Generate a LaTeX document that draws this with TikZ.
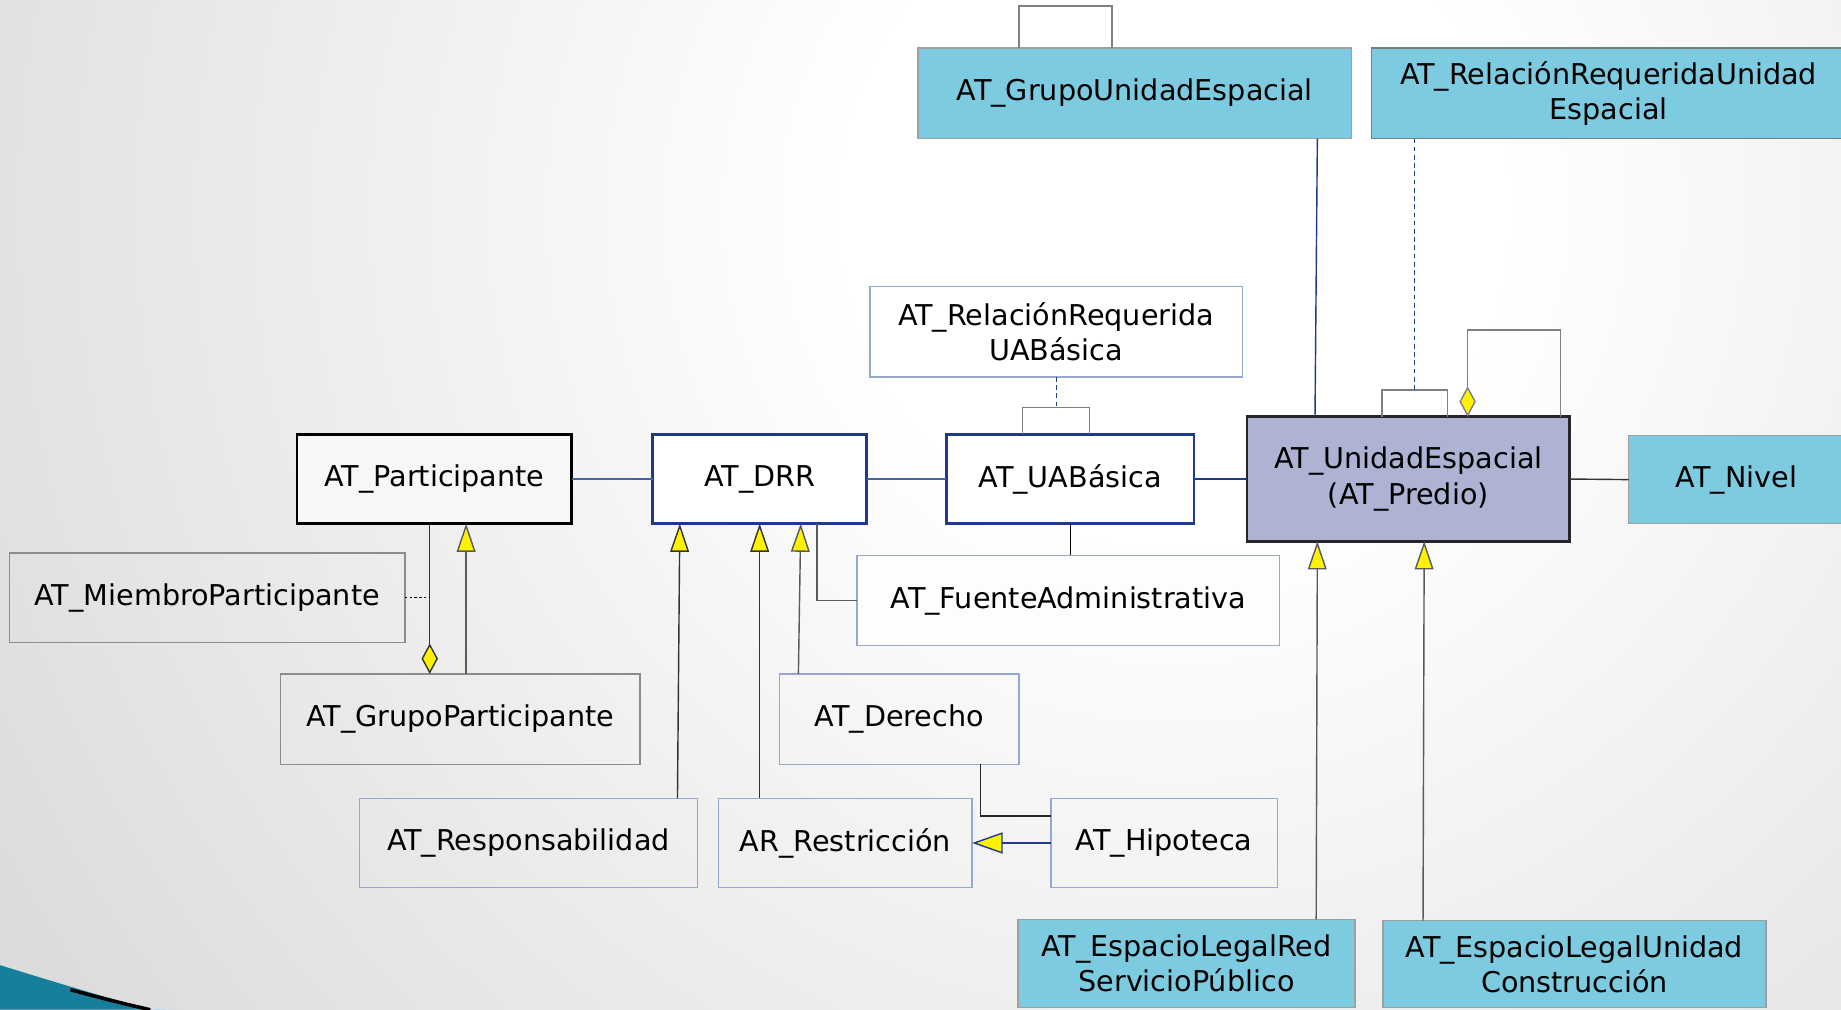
\documentclass[tikz,border=0pt]{standalone}
\usepackage{fontspec}
\setmainfont{DejaVu Sans}
\usetikzlibrary{arrows.meta}
\definecolor{cyanc}{RGB}{124,203,224}
\definecolor{lav}{RGB}{174,178,211}
\definecolor{dblue}{RGB}{31,58,138}
\definecolor{lblue}{RGB}{150,168,210}
\definecolor{bggray}{RGB}{220,220,220}
\definecolor{tealc}{RGB}{22,128,156}
\definecolor{lineblue}{RGB}{70,100,165}
\definecolor{linegray}{RGB}{90,90,90}
\definecolor{boxgray}{RGB}{140,140,140}
\pgfdeclareradialshading{bgshade}{\pgfpoint{0bp}{0bp}}{color(0bp)=(white); color(6bp)=(white); color(25bp)=(bggray); color(50bp)=(bggray)}
\begin{document}
\begin{tikzpicture}[x=0.5pt,y=-0.5pt,
  base/.style={draw, rectangle, inner sep=0pt, outer sep=0pt, align=center, text=black, font=\fontsize{12.2}{15}\selectfont},
  sz/.style 2 args={minimum width=#1, minimum height=#2},
  cyanbox/.style={base, fill=cyanc, draw=gray!75, line width=0.7pt},
  thickbox/.style={base, fill=white, draw=dblue, line width=1.2pt},
  lbox/.style={base, draw=lblue, line width=0.6pt},
  gbox/.style={base, draw=boxgray, line width=0.6pt},
  conn/.style={draw=linegray, line width=0.6pt},
  bconn/.style={draw=lineblue, line width=0.6pt},
  gen/.style={conn, -{Triangle[width=8pt,length=12pt,fill=yellow]}},
  agg/.style={conn, -{Diamond[width=7pt,length=13pt,fill=yellow]}},
]
\useasboundingbox (0,0) rectangle (1568,860);
% background
\begin{scope}
  \clip (0,0) rectangle (1568,860);
  \fill[bggray] (0,0) rectangle (1568,860);
  \shade[shading=bgshade] (1000,180) circle (1150);
  \fill[tealc] (0,822) .. controls (45,836) and (85,848) .. (128,860) -- (0,860) -- cycle;
  \draw[black, line width=1.5pt] (60,843) .. controls (90,851) and (110,856) .. (128,860);
  \fill[cyanc!70] (128,860) .. controls (134,859) and (140,860) .. (150,860) -- cycle;
\end{scope}

% nodes
\node[cyanbox, sz={184.5pt}{38.5pt}] (gue) at (966.5,79.5) {AT\_GrupoUnidadEspacial};
\node[cyanbox, draw=gray!90!teal, sz={202pt}{38.5pt}] (rrue) at (1370,79.5) {AT\_RelaciónRequeridaUnidad\\Espacial};
\node[lbox, fill=white, sz={158.5pt}{38.5pt}] (rrua) at (899.5,282.5) {AT\_RelaciónRequerida\\UABásica};
\node[base, fill=black!3, draw=black, line width=1.2pt, sz={117pt}{38pt}] (part) at (370,408) {AT\_Participante};
\node[thickbox, sz={91pt}{38pt}] (drr) at (647,408) {AT\_DRR};
\node[thickbox, sz={105.5pt}{38pt}] (uab) at (911.5,408) {AT\_UABásica};
\node[base, fill=lav, draw=black!85, line width=1.2pt, sz={137.5pt}{53pt}] (ue) at (1199.5,408) {AT\_UnidadEspacial\\(AT\_Predio)};
\node[cyanbox, sz={92pt}{37.5pt}] (niv) at (1479,408.5) {AT\_Nivel};
\node[gbox, sz={168.5pt}{38pt}] (mp) at (176.5,509) {AT\_MiembroParticipante};
\node[lbox, fill=white!60!black!2, sz={180pt}{38.5pt}] (fa) at (910,511.5) {AT\_FuenteAdministrativa};
\node[gbox, sz={153pt}{38.5pt}] (gp) at (392,612.5) {AT\_GrupoParticipante};
\node[lbox, sz={102pt}{38.5pt}] (der) at (766,612.5) {AT\_Derecho};
\node[lbox, sz={144pt}{38pt}] (resp) at (450,718) {AT\_Responsabilidad};
\node[lbox, sz={108pt}{38pt}] (restr) at (720,718) {AR\_Restricción};
\node[lbox, sz={96.5pt}{38pt}] (hip) at (991.5,718) {AT\_Hipoteca};
\node[cyanbox, sz={143.5pt}{37.5pt}] (elr) at (1010.5,820.5) {AT\_EspacioLegalRed\\ServicioPúblico};
\node[cyanbox, sz={163pt}{37pt}] (elu) at (1341,821) {AT\_EspacioLegalUnidad\\Construcción};

\coordinate (q1) at (1205,332);
\coordinate (q2) at (900,347);

% associations along the main row
\draw[bconn] (part.east) -- (drr.west);
\draw[bconn] (drr.east) -- (uab.west);
\draw[bconn, draw=dblue] (uab.east) -- (ue.west);
\draw[conn, draw=black!80] (ue.east) -- (niv.west);
\draw[conn, draw=dblue] (1120,0 |- ue.north) -- (1122,0 |- gue.south);

% self loop on GrupoUnidadEspacial
\draw[conn, draw=gray] (868,0 |- gue.north) |- (947,5) -- (947,0 |- gue.north);

% qualifier + dashed link to RelacionRequeridaUnidadEspacial
\draw[conn, draw=gray] (1177,0 |- ue.north) |- (1233,0 |- q1) -- (1233,0 |- ue.north);
\draw[conn, draw=dblue, dash pattern=on 2pt off 1.5pt, line width=0.4pt] (1205,0 |- rrue.south) -- (q1);

% self aggregation on UnidadEspacial
\draw[agg, draw=gray] (1329,0 |- ue.north) |- (1250,281) -- (1250,0 |- ue.north);

% qualifier + dashed link to RelacionRequerida UABasica
\draw[conn, draw=gray] (871,0 |- uab.north) |- (928,0 |- q2) -- (928,0 |- uab.north);
\draw[conn, draw=dblue, dash pattern=on 2pt off 1.5pt, line width=0.4pt] (900,0 |- rrua.south) -- (q2);

% UABasica - FuenteAdministrativa, DRR - FuenteAdministrativa
\draw[conn, draw=black] (uab.south) -- (uab.south |- fa.north);
\draw[conn] (696,0 |- drr.south) |- (fa.west);

% generalizations into DRR
\draw[gen, draw=black!80] (577,0 |- resp.north) -- (579,0 |- drr.south);
\draw[gen, draw=black!80] (647,0 |- restr.north) -- (647,0 |- drr.south);
\draw[gen] (680,0 |- der.north) -- (682,0 |- drr.south);

% participante group
\draw[agg, draw=black!80] (366,0 |- part.south) -- (366,0 |- gp.north);
\draw[conn, draw=black, dash pattern=on 1pt off 1pt] (mp.east) -- (366,0 |- mp.east);
\draw[gen] (397,0 |- gp.north) -- (397,0 |- part.south);

% Derecho - Hipoteca, Hipoteca -> Restriccion
\draw[conn, draw=black!85] (835,0 |- der.south) |- (hip.west |- 0,695);
\draw[conn, draw=dblue, -{Triangle[width=9pt,length=13pt,fill=yellow]}] (hip.west) -- (restr.east);

% EspacioLegal generalizations
\draw[gen] (1121,0 |- elr.north) -- (1122,0 |- ue.south);
\draw[gen] (1212,0 |- elu.north) -- (1213,0 |- ue.south);
\end{tikzpicture}
\end{document}
